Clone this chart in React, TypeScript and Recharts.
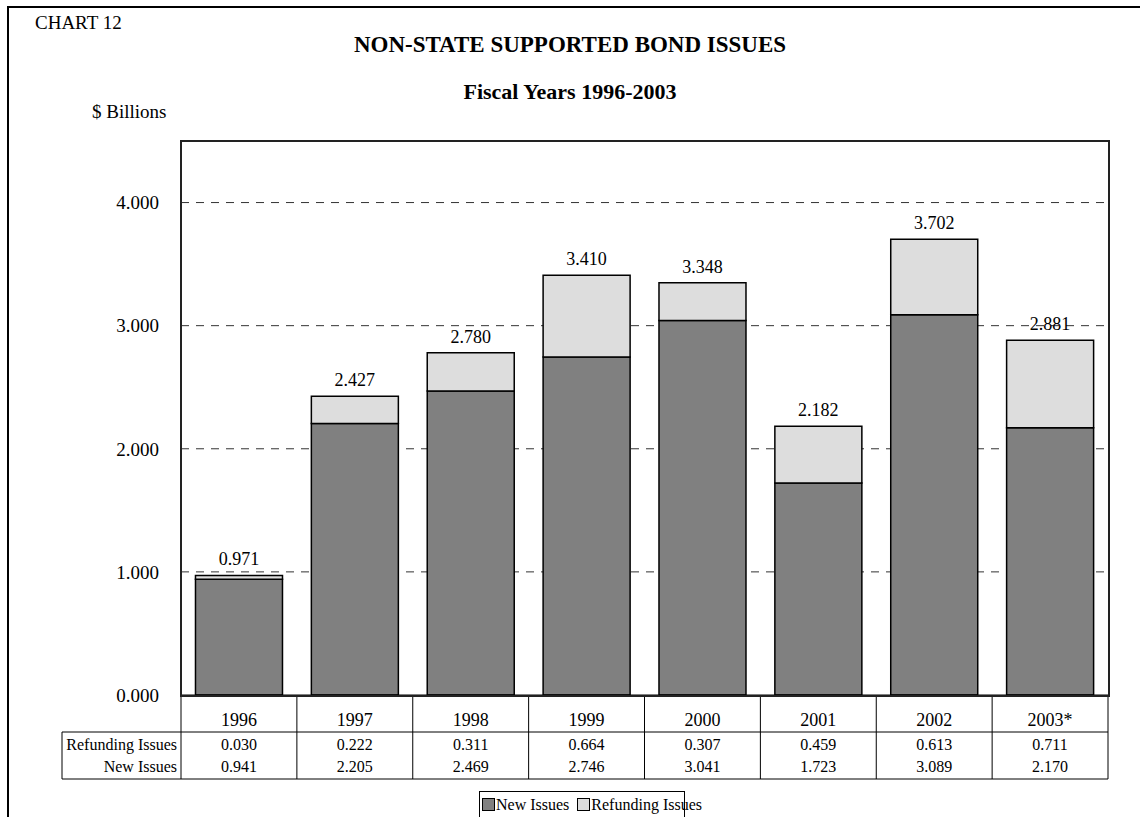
import { Bar, BarChart, CartesianGrid, LabelList, XAxis, YAxis } from "recharts";

const years = ["1996", "1997", "1998", "1999", "2000", "2001", "2002", "2003*"];
const newIssues = [0.941, 2.205, 2.469, 2.746, 3.041, 1.723, 3.089, 2.17];
const refundingIssues = [0.03, 0.222, 0.311, 0.664, 0.307, 0.459, 0.613, 0.711];
const yTicks = [0, 1, 2, 3, 4];
const gridValues = [1, 2, 3, 4];

const data = years.map((year, i) => ({
  year,
  newIssues: newIssues[i],
  refunding: refundingIssues[i],
  total: newIssues[i] + refundingIssues[i],
}));

const FONT = "'Liberation Serif', 'Times New Roman', serif";
const NEW_FILL = "#808080";
const REF_FILL = "#dddddd";

function TableTick(props: any) {
  const { x, y, payload, index } = props;
  const half = payload?.offset || 57.9;
  const left = x - half;
  const top = y - 8;
  const rowLine = top + 37;
  const bottom = top + 84;
  const i = index ?? payload.index;
  return (
    <g>
      <line x1={left} y1={top} x2={left} y2={bottom} stroke="#000" />
      {i === years.length - 1 && (
        <line x1={x + half} y1={top} x2={x + half} y2={bottom} stroke="#000" />
      )}
      {i === 0 && (
        <g>
          <line x1={62} y1={rowLine} x2={left + half * 2 * years.length} y2={rowLine} stroke="#000" />
          <line x1={62} y1={bottom} x2={left + half * 2 * years.length} y2={bottom} stroke="#000" />
          <line x1={62} y1={rowLine} x2={62} y2={bottom} stroke="#000" />
          <text x={left - 4} y={rowLine + 18} textAnchor="end" fontSize={16} fontFamily={FONT} fill="#000">
            Refunding Issues
          </text>
          <text x={left - 4} y={rowLine + 40} textAnchor="end" fontSize={16} fontFamily={FONT} fill="#000">
            New Issues
          </text>
        </g>
      )}
      <text x={x} y={top + 31} textAnchor="middle" fontSize={18} fontFamily={FONT} fill="#000">
        {payload.value}
      </text>
      <text x={x} y={rowLine + 18} textAnchor="middle" fontSize={16} fontFamily={FONT} fill="#000">
        {refundingIssues[i].toFixed(3)}
      </text>
      <text x={x} y={rowLine + 40} textAnchor="middle" fontSize={16} fontFamily={FONT} fill="#000">
        {newIssues[i].toFixed(3)}
      </text>
    </g>
  );
}

function LegendBox() {
  const swatch = (fill: string) => (
    <span
      style={{
        display: "inline-block",
        width: 11,
        height: 11,
        background: fill,
        border: "1px solid #000",
        marginRight: 1,
        verticalAlign: "-1px",
      }}
    />
  );
  return (
    <div
      style={{
        position: "absolute",
        left: 479,
        top: 791,
        width: 206,
        height: 40,
        boxSizing: "border-box",
        border: "1px solid #000",
        padding: "3px 0 0 2px",
        fontFamily: FONT,
        fontSize: 16,
        lineHeight: "20px",
        whiteSpace: "nowrap",
        background: "#fff",
      }}
    >
      {swatch(NEW_FILL)}New Issues&nbsp; {swatch(REF_FILL)}Refunding Issues
    </div>
  );
}

export default function App() {
  return (
    <div
      style={{
        position: "absolute",
        left: 0,
        top: 0,
        width: 1140,
        height: 817,
        background: "#fff",
        overflow: "hidden",
        fontFamily: FONT,
        lineHeight: 1,
      }}
    >
      <div
        style={{
          position: "absolute",
          left: 7,
          top: 6,
          width: 1140,
          height: 900,
          borderLeft: "2px solid #000",
          borderTop: "2px solid #000",
        }}
      />
      <div style={{ position: "absolute", left: 35, top: 13, fontSize: 19 }}>CHART 12</div>
      <div
        style={{
          position: "absolute",
          left: 0,
          width: 1140,
          top: 33,
          textAlign: "center",
          fontSize: 23,
          fontWeight: "bold",
        }}
      >
        NON-STATE SUPPORTED BOND ISSUES
      </div>
      <div
        style={{
          position: "absolute",
          left: 0,
          width: 1140,
          top: 81,
          textAlign: "center",
          fontSize: 22,
          fontWeight: "bold",
        }}
      >
        Fiscal Years 1996-2003
      </div>
      <div style={{ position: "absolute", left: 92, top: 102, fontSize: 19 }}>$ Billions</div>
      <div style={{ position: "absolute", left: 0, top: 0 }}>
        <BarChart
          width={1140}
          height={817}
          data={data}
          margin={{ top: 141, right: 32, bottom: 38, left: 121 }}
          barCategoryGap="12.5%"
        >
          <CartesianGrid
            vertical={false}
            horizontalValues={gridValues}
            stroke="#333"
            strokeDasharray="8 7"
          />
          <XAxis
            dataKey="year"
            height={84}
            interval={0}
            axisLine={{ stroke: "#000" }}
            tickLine={false}
            tick={<TableTick />}
          />
          <YAxis
            domain={[0, 4.5]}
            ticks={yTicks}
            width={60}
            axisLine={{ stroke: "#000" }}
            tickLine={false}
            tickMargin={16}
            tickFormatter={(v: number) => v.toFixed(3)}
            tick={{ fill: "#000", fontSize: 19, fontFamily: FONT }}
          />
          <Bar dataKey="newIssues" stackId="a" fill={NEW_FILL} stroke="#000" strokeWidth={1.5} isAnimationActive={false} />
          <Bar dataKey="refunding" stackId="a" fill={REF_FILL} stroke="#000" strokeWidth={1.5} isAnimationActive={false}>
            <LabelList
              dataKey="total"
              position="top"
              offset={10}
              formatter={(v: any) => Number(v).toFixed(3)}
              style={{ fill: "#000", fontSize: 18, fontFamily: FONT }}
            />
          </Bar>
        </BarChart>
      </div>
      <div
        style={{
          position: "absolute",
          left: 180,
          top: 140,
          width: 930,
          height: 557,
          boxSizing: "border-box",
          border: "2px solid #222",
          pointerEvents: "none",
        }}
      />
      <LegendBox />
    </div>
  );
}
